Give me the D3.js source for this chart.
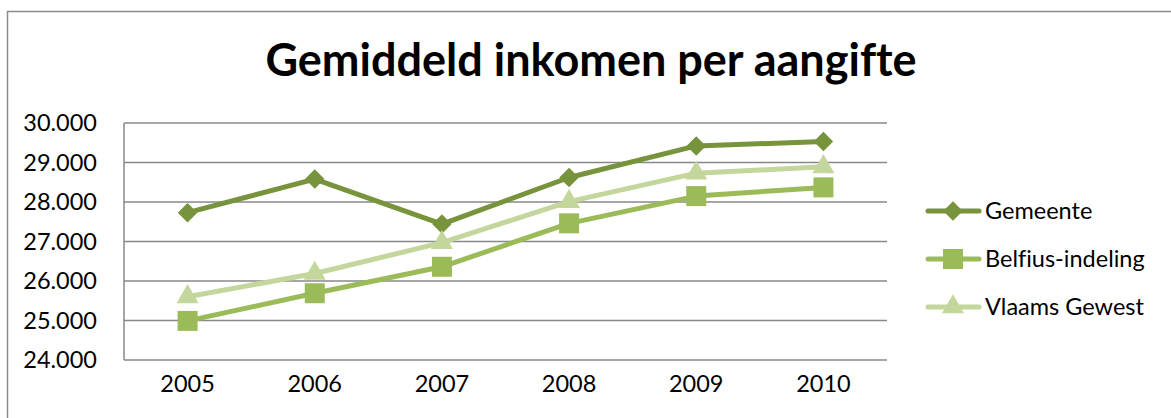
<!DOCTYPE html>
<html>
<head>
<meta charset="utf-8">
<script src="https://cdn.jsdelivr.net/npm/d3@7"></script>
<style>
  html, body { margin: 0; padding: 0; background: #fff; }
  svg { display: block; font-family: Lato, "Open Sans", sans-serif; font-variant-ligatures: none; }
</style>
</head>
<body>
<div id="chart"></div>
<script>
const YEARS = ['2005', '2006', '2007', '2008', '2009', '2010'];
const GEMEENTE = [27730, 28580, 27440, 28620, 29420, 29530];
const BELFIUS = [24990, 25690, 26360, 27460, 28150, 28370];
const VLAAMS = [25600, 26190, 26970, 28010, 28730, 28890];
const Y_TICKS = [24000, 25000, 26000, 27000, 28000, 29000, 30000];

const SERIES = [
  { name: 'Gemeente', values: GEMEENTE, color: '#77933C', symbol: d3.symbolSquare, size: 190, rotate: 45 },
  { name: 'Belfius-indeling', values: BELFIUS, color: '#9BBB59', symbol: d3.symbolSquare, size: 400, rotate: 0 },
  { name: 'Vlaams Gewest', values: VLAAMS, color: '#C3D69B', symbol: d3.symbolTriangle, size: 210, rotate: 0 }
];

const W = 1171, H = 418;
const PLOT = { left: 124, right: 887, top: 123, bottom: 360 };
const GRID = '#888';

const svg = d3.select('#chart').append('svg').attr('width', W).attr('height', H);

// outer chart frame (runs off the right and bottom edge)
svg.append('rect')
  .attr('x', 7.5).attr('y', 11.5)
  .attr('width', W + 10).attr('height', H + 10)
  .attr('fill', 'none').attr('stroke', '#8c8c8c').attr('stroke-width', 1.5);

svg.append('text')
  .attr('x', 591).attr('y', 76)
  .attr('text-anchor', 'middle')
  .attr('font-weight', 'bold')
  .attr('font-size', '45px')
  .attr('fill', '#000')
  .text('Gemiddeld inkomen per aangifte');

const x = d3.scaleBand().domain(YEARS).range([PLOT.left, PLOT.right]);
const y = d3.scaleLinear().domain([24000, 30000]).range([PLOT.bottom, PLOT.top]);
const fmt = (v) => d3.format(',')(v).replace(/,/g, '.');
const cx = (i) => x(YEARS[i]) + x.bandwidth() / 2;

// gridlines
svg.append('g')
  .selectAll('line')
  .data(Y_TICKS)
  .join('line')
  .attr('x1', PLOT.left).attr('x2', PLOT.right)
  .attr('y1', (d) => y(d)).attr('y2', (d) => y(d))
  .attr('stroke', GRID).attr('stroke-width', 1.5);

svg.append('line')
  .attr('x1', PLOT.left).attr('x2', PLOT.left)
  .attr('y1', PLOT.top).attr('y2', PLOT.bottom)
  .attr('stroke', GRID).attr('stroke-width', 1.5);

// y tick labels
svg.append('g')
  .selectAll('text')
  .data(Y_TICKS)
  .join('text')
  .attr('x', 97).attr('y', (d) => y(d))
  .attr('dy', '0.35em')
  .attr('text-anchor', 'end')
  .attr('font-size', '23.5px')
  .attr('fill', '#000')
  .text(fmt);

// x labels
svg.append('g')
  .selectAll('text')
  .data(YEARS)
  .join('text')
  .attr('x', (d, i) => cx(i))
  .attr('y', 392)
  .attr('text-anchor', 'middle')
  .attr('font-size', '23.5px')
  .attr('fill', '#000')
  .text((d) => d);

const line = d3.line()
  .x((d, i) => cx(i))
  .y((d) => y(d));

function marker(sel, s) {
  return sel
    .attr('d', d3.symbol().type(s.symbol).size(s.size))
    .attr('fill', s.color);
}

for (const s of SERIES) {
  const g = svg.append('g');
  g.append('path')
    .attr('d', line(s.values))
    .attr('fill', 'none')
    .attr('stroke', s.color)
    .attr('stroke-width', 5)
    .attr('stroke-linejoin', 'round')
    .attr('stroke-linecap', 'round');
  g.selectAll('path.m')
    .data(s.values)
    .join('path')
    .attr('class', 'm')
    .attr('transform', (d, i) => `translate(${cx(i)},${y(d)}) rotate(${s.rotate})`)
    .call(marker, s);
}

// legend
const legend = svg.append('g');
SERIES.forEach((s, i) => {
  const ly = 211 + i * 48;
  legend.append('line')
    .attr('x1', 928).attr('x2', 979)
    .attr('y1', ly).attr('y2', ly)
    .attr('stroke', s.color).attr('stroke-width', 5)
    .attr('stroke-linecap', 'round');
  legend.append('path')
    .attr('transform', `translate(953,${ly}) rotate(${s.rotate})`)
    .call(marker, s);
  legend.append('text')
    .attr('x', 985).attr('y', ly)
    .attr('dy', '0.35em')
    .attr('font-size', '23.5px')
    .attr('fill', '#000')
    .text(s.name);
});
</script>
</body>
</html>
